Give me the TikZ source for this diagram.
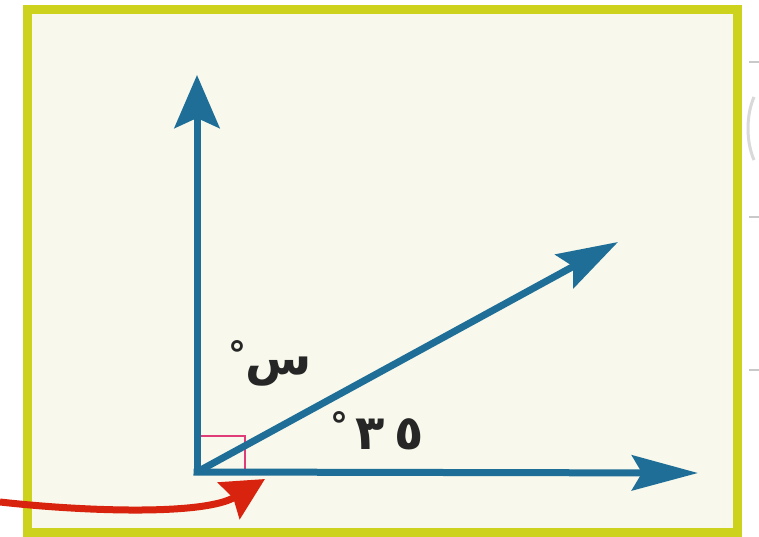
\documentclass[tikz,border=0pt]{standalone}
\usepackage{fontspec}
\usetikzlibrary{arrows.meta}
\TeXXeTstate=1
\newfontfamily\arabicfont[Script=Arabic]{DejaVu Sans}
\definecolor{frameyel}{HTML}{CDD21C}
\definecolor{cream}{HTML}{F8F9EC}
\definecolor{rayblue}{HTML}{1E6E98}
\definecolor{markpink}{HTML}{E03C78}
\definecolor{redarrow}{HTML}{D8230E}
\definecolor{pagegray}{HTML}{C9C9C9}
\tikzset{
  ray/.style={draw=rayblue, line width=7pt},
  lbl/.style={font=\arabicfont\bfseries\fontsize{48}{56}\selectfont, text=black!85, inner sep=0pt},
  degsign/.style={font=\arabicfont\bfseries\fontsize{36}{40}\selectfont, text=black!85, inner sep=0pt},
}
\begin{document}
\begin{tikzpicture}[x=1pt,y=-1pt]
\useasboundingbox (0,0) rectangle (759,537);
\fill[white] (0,0) rectangle (759,537);
% page remnants at right
\draw[pagegray, line width=1.5pt] (749,62) -- (759,62);
\draw[pagegray, line width=1.5pt] (749,217) -- (759,217);
\draw[pagegray, line width=1.5pt] (749,370) -- (759,370);
\draw[pagegray!70, line width=3pt] (754,97) .. controls (746,115) and (746,142) .. (754,160);
% frame
\draw[frameyel, fill=cream, line width=9pt] (27,10) rectangle (737,532);
% points
\coordinate (O) at (197,472);
\coordinate (T) at (197,75);
\coordinate (H) at (698,473);
\coordinate (D) at (618,242);
% right-angle mark
\draw[markpink, line width=2pt] (199,436) -- (245,436) -- (245,472);
% rays
\draw[ray, -{Stealth[length=53pt,width=45pt,inset=10pt]}] (O) -- (T);
\draw[ray, -{Stealth[length=66pt,width=35pt,inset=10pt]}] ([xshift=-3.5pt]O) -- (H);
\draw[ray, -{Stealth[length=61pt,width=38pt,inset=10pt]}] (O) -- (D);
% labels
\node[lbl] (x) at (279,372) {\beginR س\endR};
\node[degsign] (dx) at (237,354) {°};
\node[lbl] (a) at (390,434) {٣\kern10pt٥};
\node[degsign] (da) at (339,425) {°};
% red arrow
\coordinate (Rs) at (0,502);
\coordinate (Re) at (265,479);
\draw[redarrow, line width=7pt, -{Stealth[length=42pt,width=42pt,inset=5pt]}]
  (Rs) .. controls (90,512) and (205,515) .. (Re);
\end{tikzpicture}
\end{document}
